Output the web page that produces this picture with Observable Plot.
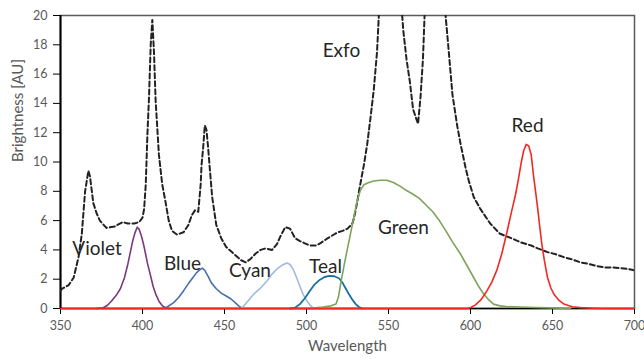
<!DOCTYPE html>
<html>
<head>
<meta charset="utf-8">
<script src="https://cdn.jsdelivr.net/npm/d3@7"></script>
<script src="https://cdn.jsdelivr.net/npm/@observablehq/plot@0.6"></script>
<style>
  html, body { margin: 0; padding: 0; background: #fff; }
  svg { display: block; }
</style>
</head>
<body>
<div id="chart"></div>
<script>
// ---- Data ----
const exfoX = [350,351,355,358,361,363,365,367,368,370,372,374,378,383,388,391,395,398,400,401,402,403,404,405,406,407,408,410,412,414,416,418,421,425,428,430,432,434,435.5,436,437,438,439,440,441,442.5,445,448,451,454,457,460,463,466,469,472,475,479,482,484,487,490,493,496,499,502,506,509,513,516,519,522,525,528,529,531,532,535,537,539,541,543,545,548,551,554,557,559,561,563,565,568,569.5,571,572,575,578,581,584,586,589,592,594,597,599,602,606,612,618,626,631,637,641,647,652,657,662,667,672,677,682,687,692,696,700];
const exfoY = [1.2,1.35,1.6,2.1,3.5,5.1,8.0,9.4,9.0,7.2,6.5,6.0,5.5,5.6,5.9,5.8,5.8,5.9,6.2,6.8,8.5,11.9,14.5,18,19.7,17.5,14.2,10.5,8.5,7.3,6.0,5.3,5.05,5.2,5.7,6.35,6.7,6.6,8.5,9.8,11,12.5,12.2,11.0,9.6,7.6,5.7,4.8,4.2,3.9,3.6,3.3,3.15,3.4,3.75,4.0,4.1,4.0,4.4,4.9,5.55,5.45,4.8,4.6,4.45,4.3,4.3,4.5,4.8,5.0,5.2,5.3,5.45,5.8,6.2,7.3,8.0,9.8,11.2,13.0,14.9,17.5,22,28,30,28,22,19,17,15.5,13.6,12.6,14.4,17,20,28,32,28,21,18.5,14.6,12.4,11.2,9.6,8.7,7.6,6.8,5.8,5.1,4.75,4.5,4.3,4.1,3.85,3.7,3.5,3.35,3.15,3.05,2.9,2.8,2.8,2.75,2.7,2.6];

const violetX = [372,376,378.5,381,384,386.5,389,391,392.5,394,395.5,396.8,398,399.5,401,403,405,406.5,408,410,412,414,416];
const violetY = [0,0.05,0.2,0.5,0.9,1.35,2.1,3.0,3.8,4.6,5.2,5.55,5.4,4.9,4.2,3.1,2.2,1.5,1.0,0.5,0.2,0.05,0];

const blueX = [412,415,419,422,425,428,431,433,435,436.5,438,440,442,445,448,451,454,457,459,461];
const blueY = [0,0.1,0.4,0.75,1.2,1.7,2.15,2.45,2.65,2.75,2.6,2.2,1.75,1.35,1.05,0.85,0.65,0.35,0.15,0];

const cyanX = [460,462,465,468,472,476,479,482,485,488,490,492,494,496,498,500,502,504,506];
const cyanY = [0,0.2,0.6,1.0,1.4,1.9,2.35,2.7,2.95,3.1,3.0,2.65,2.1,1.5,0.95,0.55,0.25,0.05,0];

const tealX = [490,493,496,499,502,505,508,511,514,517,520,522,524,526,528,530,532,534];
const tealY = [0,0.05,0.3,0.7,1.2,1.65,1.95,2.15,2.22,2.2,2.05,1.75,1.35,0.95,0.6,0.3,0.1,0];

const greenX = [500,505,510,515,518,519.5,521,523,525,527,529,531,533,535,538,541,545,549,553,557,561,565,569,573,577,581,585,589,594,598,602,605,608,611,614,618,622,630,640,650,661];
const greenY = [0,0.05,0.1,0.18,0.3,0.8,1.8,3.0,4.1,5.2,6.3,7.4,8.1,8.45,8.6,8.7,8.75,8.75,8.6,8.35,8.05,7.8,7.5,7.05,6.6,6.0,5.3,4.55,3.7,2.9,2.1,1.5,1.0,0.6,0.3,0.18,0.13,0.1,0.07,0.04,0];

const redX = [350,598,600,603,606,608,610,613,616,619,622,625,627.5,629,631,632.5,634,635.5,637,638.5,640,641,642,643.5,645,647,649,651,654,657,662,667,675,680,700];
const redY = [0,0,0.05,0.25,0.55,0.85,1.2,1.8,2.6,3.7,5.1,6.6,7.8,8.7,10.0,10.8,11.2,11.1,10.5,9.0,7.7,6.8,5.8,4.4,3.3,2.1,1.4,0.95,0.55,0.3,0.12,0.06,0.02,0,0];

const seriesNames = ["Exfo","Violet","Blue","Cyan","Teal","Green","Red"];
const labelX = [521.3, 372.3, 424.4, 465.5, 511.6, 559.1, 634.8];
const labelY = [17.6, 4.06, 3.04, 2.54, 2.85, 5.47, 12.44];

const xTicks = [350,400,450,500,550,600,650,700];
const yTicks = [0,2,4,6,8,10,12,14,16,18,20];

// ---- Build tables ----
const toRows = (xs, ys) => xs.map((x, i) => ({x, y: ys[i]}));
const exfo = toRows(exfoX, exfoY);
const violet = toRows(violetX, violetY);
const blue = toRows(blueX, blueY);
const cyan = toRows(cyanX, cyanY);
const teal = toRows(tealX, tealY);
const green = toRows(greenX, greenY);
const red = toRows(redX, redY);
const labels = seriesNames.map((name, i) => ({name, x: labelX[i], y: labelY[i]}));

const tickFont = "Lato, 'Open Sans', sans-serif";

const chart = Plot.plot({
  width: 644,
  height: 359,
  marginTop: 15,
  marginRight: 10,
  marginBottom: 51,
  marginLeft: 60,
  style: {fontFamily: tickFont, fontSize: "12.5px", background: "#fff"},
  x: {domain: [350, 700]},
  y: {domain: [0, 20]},
  marks: [
    Plot.frame({stroke: "#5a5a5a", strokeWidth: 1.5}),
    // ticks only
    Plot.axisX({ticks: xTicks, tickSize: 6, text: null, stroke: "black", label: null}),
    Plot.axisY({ticks: yTicks, tickSize: 7, text: null, stroke: "black", label: null}),
    // tick labels only
    Plot.axisX({ticks: xTicks, tickSize: 0, tickPadding: 13, fill: "#595959", label: null, fontSize: 12.5}),
    Plot.axisY({ticks: yTicks, tickSize: 0, tickPadding: 13, fill: "#595959", label: null, fontSize: 12.5}),
    Plot.ruleX([350], {stroke: "black", strokeWidth: 2}),
    Plot.ruleY([0], {stroke: "black", strokeWidth: 1.5}),
    Plot.line(exfo, {x: "x", y: "y", stroke: "#222", strokeWidth: 2, strokeDasharray: "5,3", clip: true}),
    Plot.line(violet, {x: "x", y: "y", stroke: "#7b3a7c", strokeWidth: 1.6}),
    Plot.line(blue, {x: "x", y: "y", stroke: "#4a6fae", strokeWidth: 1.6}),
    Plot.line(cyan, {x: "x", y: "y", stroke: "#9dbae3", strokeWidth: 1.6}),
    Plot.line(teal, {x: "x", y: "y", stroke: "#17709f", strokeWidth: 1.8}),
    Plot.line(green, {x: "x", y: "y", stroke: "#7ea35a", strokeWidth: 1.6}),
    Plot.line(red, {x: "x", y: "y", stroke: "#ee2a22", strokeWidth: 1.6}),
    Plot.text(labels, {x: "x", y: "y", text: "name", fontSize: 19, fill: "#262626", fontFamily: tickFont}),
    Plot.text(["Brightness [AU]"], {frameAnchor: "left", dx: -42, rotate: -90, fontSize: 15, fill: "#595959", fontFamily: tickFont}),
    Plot.text(["Wavelength"], {frameAnchor: "bottom", dy: 42, fontSize: 15, fill: "#595959", fontFamily: tickFont})
  ]
});
document.getElementById("chart").appendChild(chart);
</script>
</body>
</html>
